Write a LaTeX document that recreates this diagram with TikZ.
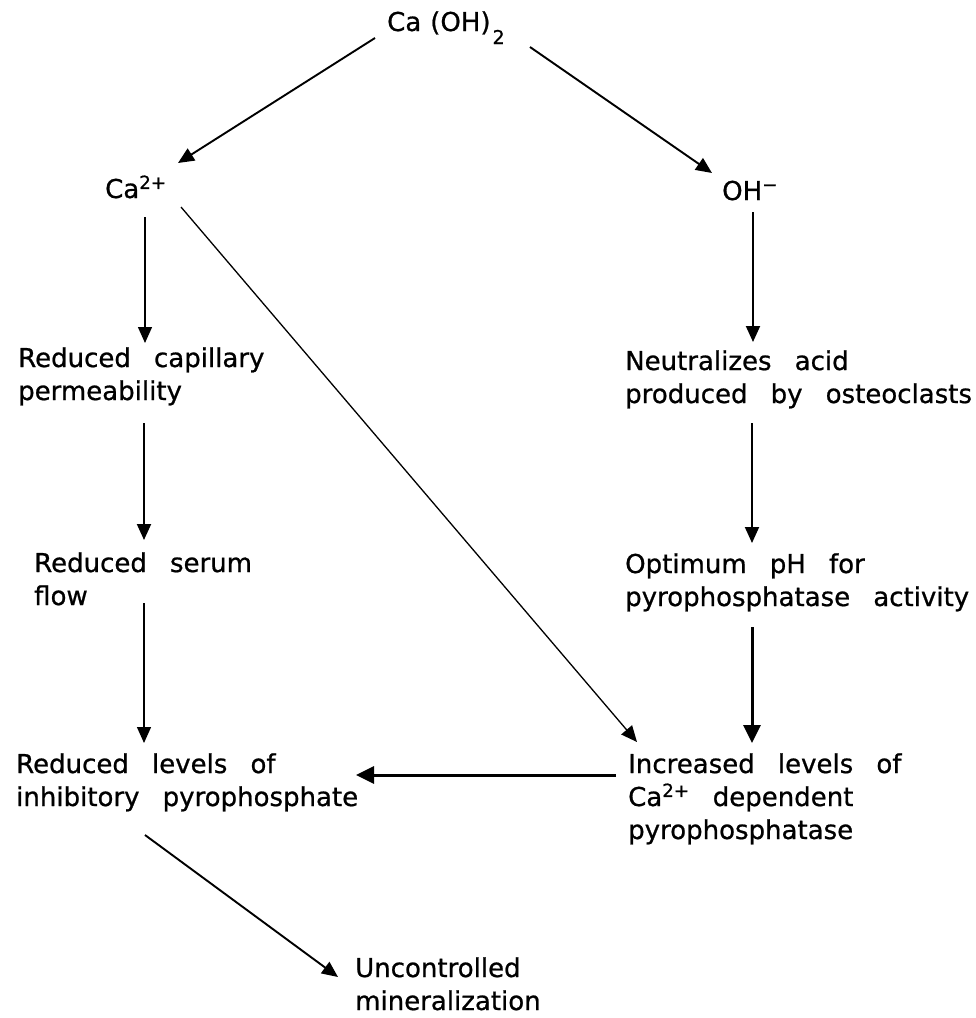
\documentclass[tikz,border=0pt]{standalone}
\usepackage{fontspec}
\setmainfont{DejaVu Sans}[WordSpace=2.8,FakeBold=0.8]
\usetikzlibrary{arrows.meta}
% left-aligned block of lines whose baseline is that of its first line
\newcommand\lineblock[1]{\vtop{\halign{##\hfil\cr#1\crcr}}}
% large, low subscript digit
\newcommand\lowsub[1]{\raisebox{-13pt}{\fontsize{19}{19}\selectfont#1}}
\begin{document}
\begin{tikzpicture}[x=1pt,y=-1pt,
  label/.style={anchor=base west,inner sep=0pt,
    font=\fontsize{26}{33}\selectfont},
  flow/.style={-{Triangle[length=16pt,width=14pt]},line width=1.9pt},
  flowthin/.style={flow,line width=1.3pt},
  flowthick/.style={-{Triangle[length=18pt,width=17pt]},line width=3pt}]
\useasboundingbox (0,0) rectangle (976,1018);

% chemical species
\node[label] (caoh) at (387,31) {Ca\hspace{9pt}(OH)\hspace{2pt}\lowsub{2}};
\node[label] (ca2)  at (105,198) {Ca\textsuperscript{2+}};
\node[label] (oh)   at (722,200) {OH\textsuperscript{−}};

% left branch
\node[label] (cap)   at (18,367)  {\lineblock{Reduced capillary\cr permeability}};
\node[label] (serum) at (34,572)  {\lineblock{Reduced serum\cr flow}};
\node[label] (lev)   at (16,773)  {\lineblock{Reduced levels of\cr inhibitory pyrophosphate}};

% right branch
\node[label] (neut) at (625,370) {\lineblock{Neutralizes acid\cr produced by osteoclasts}};
\node[label] (opt)  at (625,573) {\lineblock{Optimum pH for\cr pyrophosphatase activity}};
\node[label] (inc)  at (628,773) {\lineblock{Increased levels of\cr Ca\textsuperscript{2+} dependent\cr pyrophosphatase}};

% outcome
\node[label] (unc) at (355,977) {\lineblock{Uncontrolled\cr mineralization}};

% connectors
\draw[flow] ([shift={(-12,7)}]caoh.base west) -- ([shift={(73,-35)}]ca2.base west);
\draw[flow] ([shift={(143,16)}]caoh.base west) -- ([shift={(-10,-27)}]oh.base west);
\draw[flowthin] ([shift={(40,19)}]ca2.base west) -- ([shift={(127,-24)}]cap.base west);
\draw[flowthin] ([shift={(76,9)}]ca2.base west) -- ([shift={(9,-31)}]inc.base west);
\draw[flow] ([shift={(31,12)}]oh.base west) -- ([shift={(128,-28)}]neut.base west);
\draw[flow] ([shift={(126,56)}]cap.base west) -- ([shift={(110,-32)}]serum.base west);
\draw[flow] ([shift={(127,53)}]neut.base west) -- ([shift={(127,-30)}]opt.base west);
\draw[flowthin] ([shift={(110,31)}]serum.base west) -- ([shift={(128,-30)}]lev.base west);
\draw[flowthick] ([shift={(127,54)}]opt.base west) -- ([shift={(124,-30)}]inc.base west);
\draw[flowthick] ([shift={(-12,2)}]inc.base west) -- ([shift={(340,2)}]lev.base west);
\draw[flow] ([shift={(129,62)}]lev.base west) -- ([shift={(-17,0)}]unc.base west);
\end{tikzpicture}
\end{document}
